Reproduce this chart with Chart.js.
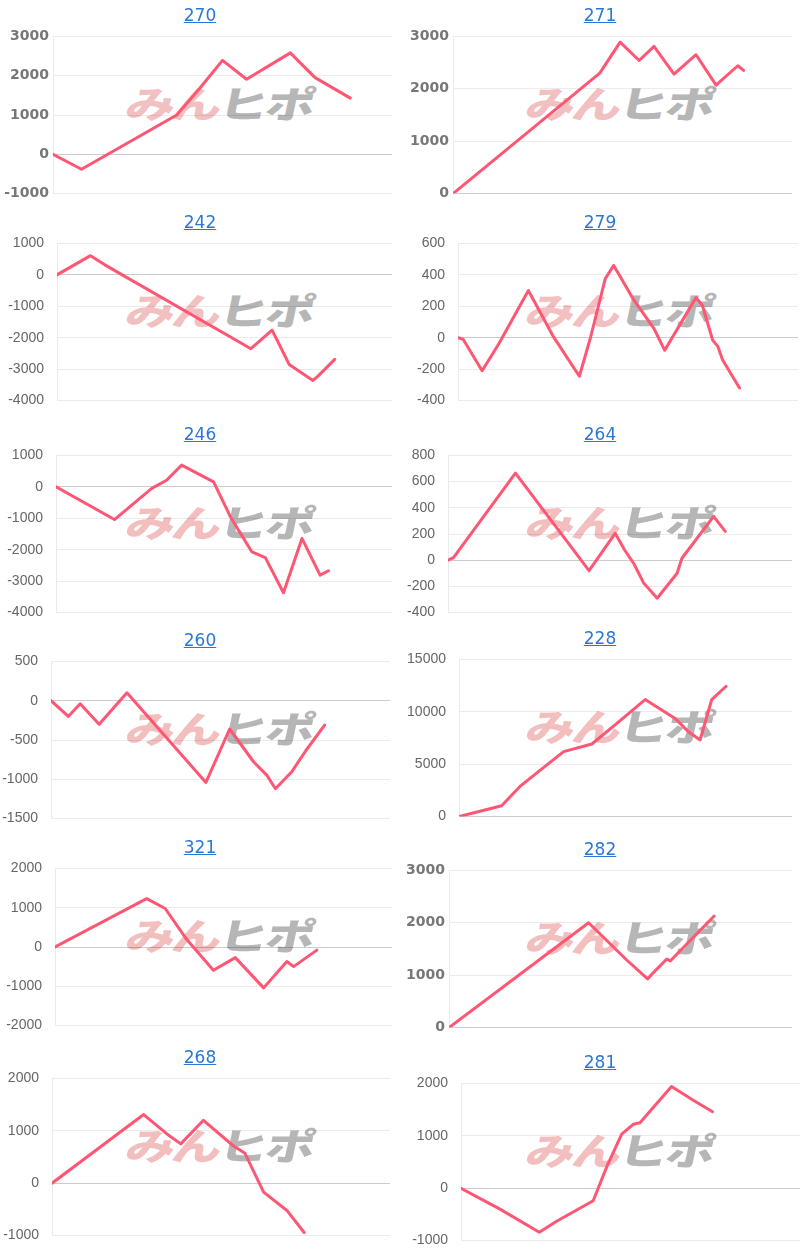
<!DOCTYPE html>
<html>
<head>
<meta charset="utf-8">
<script src="https://cdn.jsdelivr.net/npm/chart.js@4.4.0/dist/chart.umd.min.js"></script>
<style>
  body { margin: 0; background: #fff; }
  #board { position: relative; width: 800px; height: 1251px; overflow: hidden; }
  .panel { position: absolute; width: 400px; height: 210px; }
  .panel a {
    position: absolute; left: 0; top: 0; width: 400px; height: 30px;
    font: 17px/30px 'DejaVu Sans', sans-serif; text-align: center;
    color: #2a78d6; text-decoration: underline; z-index: 2;
  }
  .wm {
    position: absolute; left: 131px; top: 84px; white-space: nowrap;
    font: 900 37px/1 'Noto Sans CJK JP', sans-serif;
    transform: skewX(-12deg) scaleX(1.33); transform-origin: left top; letter-spacing: -2px;
  }
  .wm .a { color: rgba(225, 100, 100, 0.42); }
  .wm .b { color: #b6b6b6; }
  .plot { position: absolute; left: 0; }
</style>
</head>
<body>
<div id="board"></div>
<script>
// ─── Data (x = position along the period, 0-100; y = cumulative result) ───
const titles = ['270', '271', '242', '279', '246', '264', '260', '228', '321', '282', '268', '281'];

const x270 = [0, 8.4, 36.5, 43.3, 50.0, 57.1, 70.0, 77.3, 87.7];
const y270 = [0, -380, 1000, 1680, 2390, 1910, 2580, 1950, 1430];

const x271 = [0, 43.3, 49.3, 54.9, 59.3, 65.2, 71.7, 77.6, 84.0, 85.7];
const y271 = [0, 2300, 2890, 2540, 2810, 2280, 2650, 2070, 2440, 2350];

const x242 = [0, 10.0, 14.4, 57.9, 64.2, 69.3, 76.4, 77.9, 82.9];
const y242 = [0, 610, 310, -2350, -1760, -2850, -3360, -3220, -2690];

const x279 = [0, 1.5, 7.1, 12.1, 20.7, 28.1, 35.7, 38.9, 43.3, 45.8, 51.7, 57.6, 60.8, 70.0, 71.9, 74.9, 76.4, 77.8, 82.8];
const y279 = [0, -10, -210, -35, 300, 5, -245, -5, 375, 460, 240, 60, -80, 255, 205, -15, -55, -140, -320];

const x246 = [0, 17.4, 28.5, 32.9, 37.4, 46.9, 51.9, 58.3, 62.3, 67.7, 73.2, 78.6, 81.1];
const y246 = [0, -1040, -50, 210, 690, 160, -950, -2070, -2250, -3370, -1640, -2810, -2670];

const x264 = [0, 1.6, 19.6, 41.0, 48.6, 51.3, 54.0, 56.9, 60.8, 66.6, 68.0, 77.2, 80.6];
const y264 = [0, 20, 665, -80, 205, 80, -25, -175, -290, -100, 15, 335, 220];

const x260 = [0, 5.1, 8.6, 14.2, 22.4, 45.7, 52.7, 59.8, 63.7, 66.2, 71.1, 75.1, 80.7];
const y260 = [0, -200, -40, -300, 100, -1040, -360, -780, -950, -1120, -900, -640, -310];

const x228 = [0, 12.8, 18.3, 31.4, 39.9, 47.4, 55.9, 64.9, 68.9, 72.4, 75.9, 80.2];
const y228 = [0, 1040, 2880, 6200, 6930, 8890, 11170, 9370, 8100, 7310, 11170, 12440];

const x321 = [0, 27.2, 32.7, 39.1, 47.0, 53.5, 61.9, 68.8, 70.8, 77.7];
const y321 = [0, 1230, 980, 190, -590, -270, -1040, -370, -500, -80];

const x282 = [0, 40.7, 51.8, 57.9, 59.6, 63.5, 64.5, 77.3];
const y282 = [0, 2000, 1290, 930, 1050, 1310, 1270, 2130];

const x268 = [0, 27.1, 34.0, 38.1, 44.8, 53.7, 57.1, 62.6, 69.5, 74.6];
const y268 = [0, 1310, 940, 750, 1200, 710, 570, -170, -520, -940];

const x281 = [0, 11.5, 23.1, 28.2, 39.0, 43.0, 47.4, 50.8, 52.8, 62.1, 68.5, 74.2];
const y281 = [0, -400, -840, -630, -240, 410, 1030, 1220, 1250, 1940, 1680, 1460];

const seriesX = [x270, x271, x242, x279, x246, x264, x260, x228, x321, x282, x268, x281];
const seriesY = [y270, y271, y242, y279, y246, y264, y260, y228, y321, y282, y268, y281];

// y-axis ticks
const yMin  = [-1000, 0, -4000, -400, -4000, -400, -1500, 0, -2000, 0, -1000, -1000];
const yMax  = [3000, 3000, 1000, 600, 1000, 800, 500, 15000, 2000, 3000, 2000, 2000];
const yStep = [1000, 1000, 1000, 200, 1000, 200, 500, 5000, 1000, 1000, 1000, 1000];

// ─── Layout / style ──────────────────────────────────────────────────
const panelTop  = [0, 0, 207, 207, 419, 419, 625, 623, 832, 834, 1042, 1047];
const axisLeft  = [53, 53, 57, 58, 56, 48, 51, 59, 55, 49, 52, 61];
const plotWidth = [392, 392, 392, 398, 392, 392, 390, 392, 392, 392, 390, 400];
const boldTicks = [true, true, false, false, false, false, false, false, false, true, false, false];
const AREA_TOP = 36, AREA_H = 158;   // plot area inside each panel
const TICK_SIZE = 14;

const LINE = 'rgb(255, 86, 116)';
const GRID = 'rgba(0, 0, 0, 0.08)';
const ZERO = 'rgba(0, 0, 0, 0.2)';

const board = document.getElementById('board');

titles.forEach((title, i) => {
    const bold = boldTicks[i];
    const pad = bold ? 4 : 13;
    // Chart.js insets the plot by half a label height plus the tick padding
    const inset = Math.round(TICK_SIZE * 1.2 / 2 + pad);

    const panel = document.createElement('div');
    panel.className = 'panel';
    panel.style.left = (i % 2) * 400 + 'px';
    panel.style.top = panelTop[i] + 'px';
    panel.innerHTML =
        `<div class="wm"><span class="a">みん</span><span class="b">ヒポ</span></div>` +
        `<div class="plot" style="top:${AREA_TOP - inset}px">` +
        `<canvas width="${plotWidth[i]}" height="${AREA_H + 2 * inset}"></canvas></div>` +
        `<a href="#">${title}</a>`;
    board.appendChild(panel);

    new Chart(panel.querySelector('canvas'), {
        type: 'line',
        data: {
            datasets: [{
                data: seriesX[i].map((x, k) => ({ x: x, y: seriesY[i][k] })),
                borderColor: LINE,
                borderWidth: 3,
                pointRadius: 0,
                tension: 0,
                fill: false,
                borderJoinStyle: 'round',
                borderCapStyle: 'round'
            }]
        },
        options: {
            responsive: false,
            animation: false,
            devicePixelRatio: 1,
            layout: { padding: 0 },
            plugins: { legend: { display: false }, tooltip: { enabled: false } },
            scales: {
                x: { type: 'linear', min: 0, max: 100, display: false },
                y: {
                    min: yMin[i],
                    max: yMax[i],
                    afterFit: s => { s.width = axisLeft[i]; },
                    ticks: {
                        stepSize: yStep[i],
                        padding: pad,
                        color: bold ? '#777' : '#666',
                        font: bold
                            ? { family: "'DejaVu Sans'", size: TICK_SIZE, weight: 'bold' }
                            : { family: "'Liberation Sans', Arial", size: TICK_SIZE },
                        callback: v => String(v)
                    },
                    grid: {
                        drawTicks: false,
                        color: c => (c.tick && c.tick.value === 0 ? ZERO : GRID)
                    },
                    border: { color: GRID }
                }
            }
        }
    });
});
</script>
</body>
</html>
